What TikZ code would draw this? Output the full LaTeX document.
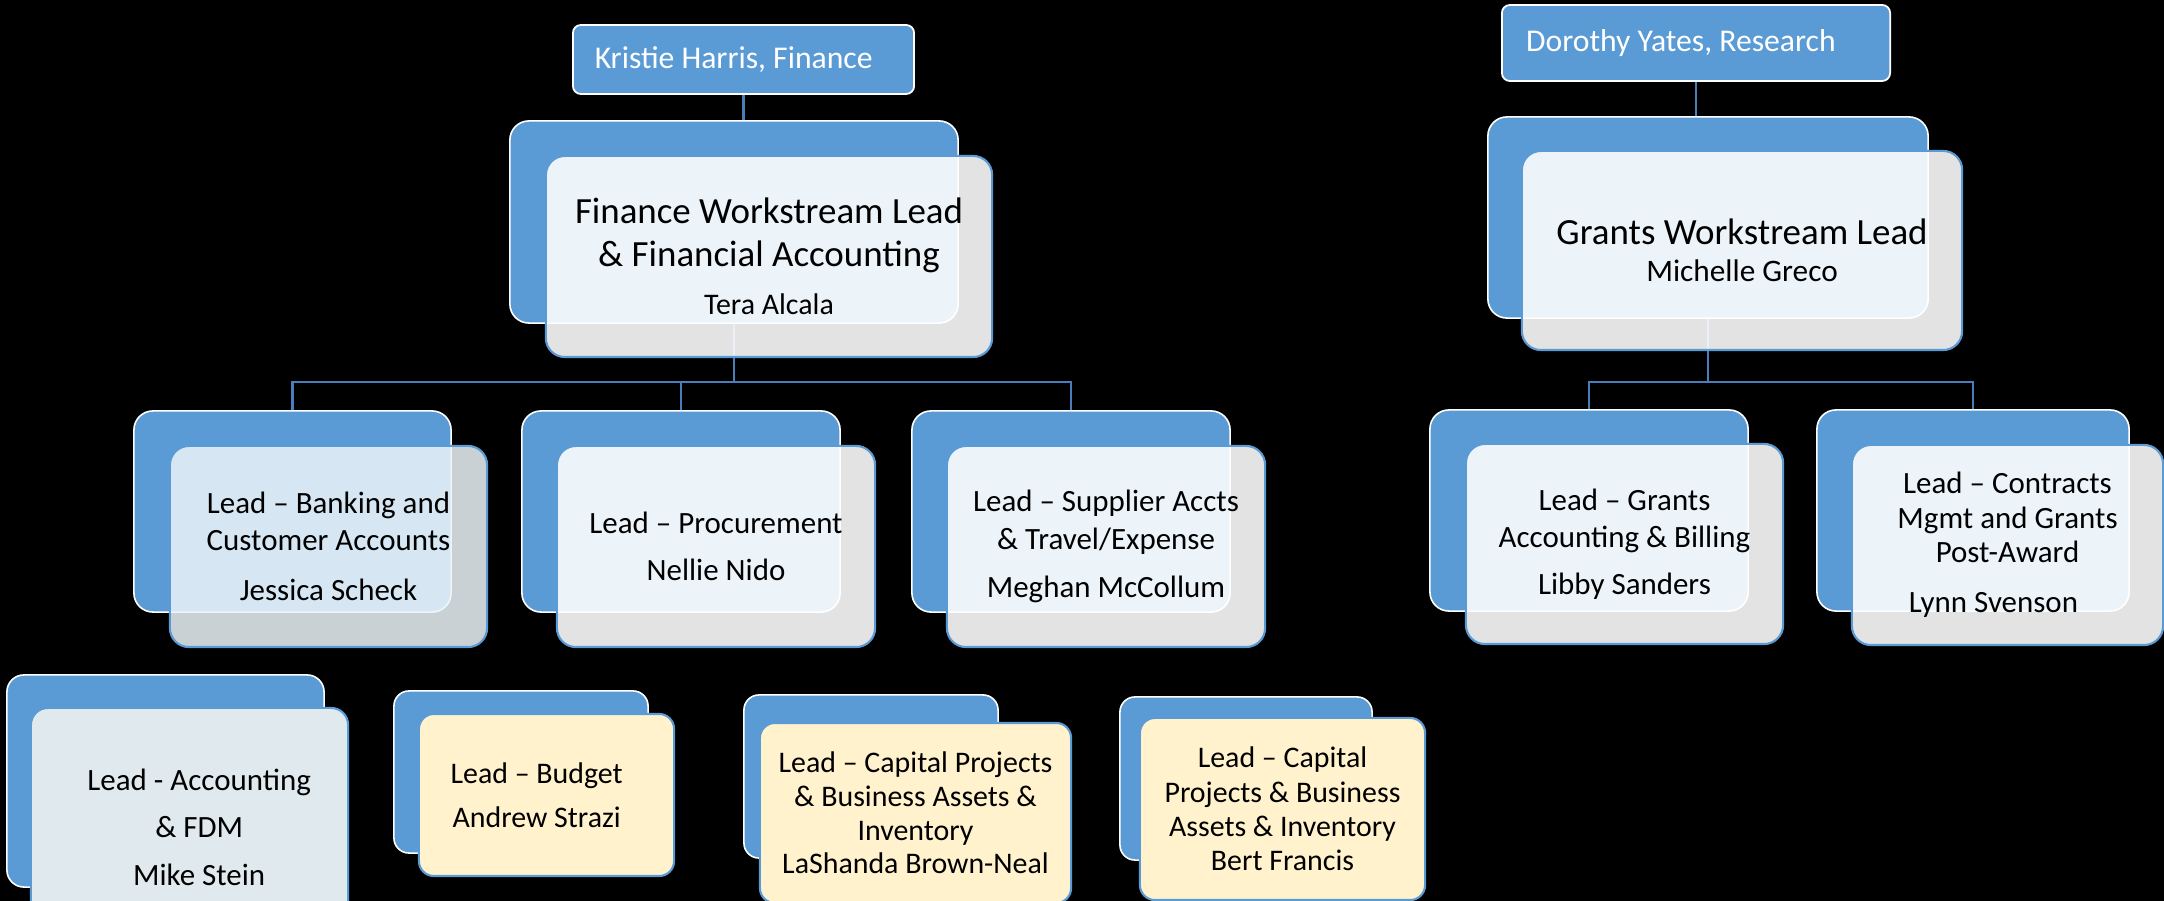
\documentclass[tikz,border=0pt]{standalone}
\usepackage{fontspec}
\setmainfont{Carlito}
\definecolor{accent}{HTML}{5B9BD5}
\definecolor{conn}{HTML}{4A7EBB}
\definecolor{ylw}{HTML}{FFF2CC}
\definecolor{mikefill}{HTML}{E0EAEE}
\definecolor{jessfill}{HTML}{EBF4F8}
\pgfdeclarelayer{bg}
\pgfdeclarelayer{wires}
\pgfsetlayers{bg,wires,main}
\begin{document}
\begin{tikzpicture}[x=0.01cm,y=-0.01cm,
  backbox/.style={draw=white, line width=0.45pt, fill=accent, rounded corners=0.19cm, inner sep=0pt},
  frontbox/.style={draw=accent, line width=0.6pt, fill=white, fill opacity=0.89, text opacity=1,
    rounded corners=0.19cm, inner sep=0pt, align=center, text=black},
  headbox/.style={draw=white, line width=0.5pt, fill=accent, rounded corners=0.08cm, text=white,
    font=\fontsize{9}{11}\selectfont, inner sep=0pt},
  leadfont/.style={font=\fontsize{10.5}{#1}\selectfont},
  kidfont/.style={font=\fontsize{8.8}{#1}\selectfont},
  lowfont/.style={font=\fontsize{8.5}{#1}\selectfont},
  wire/.style={draw=conn, line width=0.6pt}]
\begin{pgfonlayer}{bg}
\fill[black] (0,0) rectangle (2164,901);
\end{pgfonlayer}
\useasboundingbox (0,0) rectangle (2164,901);

% heads
\node[headbox, minimum width=3.41cm, minimum height=0.69cm] (kh) at (743.5,59.5)
  {\raisebox{0.7pt}{Kristie Harris, Finance}\hspace{5.6pt}\mbox{}};
\node[headbox, minimum width=3.88cm, minimum height=0.76cm] (dy) at (1696,43)
  {\raisebox{1.3pt}{Dorothy Yates, Research}\hspace{8.6pt}\mbox{}};

% finance lead
\node[backbox, minimum width=4.48cm, minimum height=2.02cm] (finb) at (734,222) {};
\node[frontbox, leadfont=12.2, minimum width=4.46cm, minimum height=2.01cm] (finf) at (769,256.5)
  {Finance Workstream Lead\\\& Financial Accounting\\[1.5pt]{\fontsize{8.5}{10}\selectfont Tera Alcala}};

% grants lead
\node[backbox, minimum width=4.40cm, minimum height=2.01cm] (grb) at (1708,217.5) {};
\node[frontbox, leadfont=10.5, minimum width=4.40cm, minimum height=1.99cm] (grf) at (1742,250.5)
  {Grants Workstream Lead\\{\fontsize{8.9}{10}\selectfont Michelle Greco}};

% finance children
\node[backbox, minimum width=3.17cm, minimum height=2.01cm] (jb) at (292.5,511.5) {};
\node[frontbox, fill=jessfill, fill opacity=0.86, kidfont=10.5, minimum width=3.17cm, minimum height=2.01cm] (jf) at (328.5,546.5)
  {Lead – Banking and\\Customer Accounts\\[3.7pt]Jessica Scheck};

\node[backbox, minimum width=3.18cm, minimum height=2.01cm] (nb) at (681,511.5) {};
\node[frontbox, kidfont=10.5, minimum width=3.18cm, minimum height=2.01cm] (nf) at (716,546.5)
  {Lead – Procurement\\[2.9pt]Nellie Nido};

\node[backbox, minimum width=3.18cm, minimum height=2.01cm] (mb) at (1071,511.5) {};
\node[frontbox, kidfont=10.8, minimum width=3.18cm, minimum height=2.01cm] (mf) at (1106,546.5)
  {Lead – Supplier Accts\\\& Travel/Expense\\[2.9pt]Meghan McCollum};

% grants children
\node[backbox, minimum width=3.18cm, minimum height=2.01cm] (lib) at (1589,510.5) {};
\node[frontbox, kidfont=10.5, minimum width=3.17cm, minimum height=2.00cm] (lif) at (1624.5,544)
  {Lead – Grants\\Accounting \& Billing\\[2.9pt]Libby Sanders};

\node[backbox, minimum width=3.12cm, minimum height=2.01cm] (lyb) at (1973,510.5) {};
\node[frontbox, kidfont=9.8, minimum width=3.11cm, minimum height=2.00cm] (lyf) at (2007.5,545)
  {Lead – Contracts\\Mgmt and Grants\\Post-Award\\[4.4pt]Lynn Svenson\hspace{8pt}\mbox{}};

% bottom row
\node[backbox, rounded corners=0.17cm, minimum width=3.17cm, minimum height=2.12cm] (msb) at (165.5,781) {};
\node[frontbox, fill=mikefill, fill opacity=1, rounded corners=0.17cm, kidfont=13.5, minimum width=3.17cm, minimum height=2.38cm] (msf) at (189.5,827)
  {\hspace{5.5pt}Lead - Accounting\\\hspace{5.5pt}\& FDM\\\hspace{5.5pt}Mike Stein};

\node[backbox, rounded corners=0.15cm, minimum width=2.54cm, minimum height=1.62cm] (asb) at (521,772) {};
\node[frontbox, fill=ylw, fill opacity=1, rounded corners=0.15cm, lowfont=12.5, minimum width=2.55cm, minimum height=1.62cm] (asf) at (546.5,795)
  {Lead – Budget\hspace{5.6pt}\mbox{}\\Andrew Strazi\hspace{5.6pt}\mbox{}};

\node[backbox, rounded corners=0.15cm, minimum width=2.54cm, minimum height=1.63cm] (lsb) at (871,776.5) {};
\node[frontbox, fill=ylw, fill opacity=1, rounded corners=0.15cm, lowfont=9.6, minimum width=3.11cm, minimum height=1.80cm] (lsf) at (915.5,813)
  {Lead – Capital Projects\\\& Business Assets \&\\Inventory\\LaShanda Brown-Neal};

\node[backbox, rounded corners=0.15cm, minimum width=2.52cm, minimum height=1.63cm] (bfb) at (1246,778.5) {};
\node[frontbox, fill=ylw, fill opacity=1, rounded corners=0.15cm, lowfont=9.8, minimum width=2.85cm, minimum height=1.82cm] (bff) at (1282.5,809)
  {Lead – Capital\\Projects \& Business\\Assets \& Inventory\\Bert Francis};

% connectors
\coordinate (fbus) at (734,382);
\coordinate (gbus) at (1708,382);
\begin{pgfonlayer}{wires}
\draw[wire] (kh.south) -- (kh.south |- finb.north);
\draw[wire] (finb.south) -- (fbus) -| (jb.north);
\draw[wire] (fbus) -| (nb.north);
\draw[wire] (fbus) -| (mb.north);
\draw[wire] (dy.south) -- (dy.south |- grb.north);
\draw[wire] (grb.south) -- (gbus) -| (lib.north);
\draw[wire] (gbus) -| (lyb.north);
\end{pgfonlayer}
\end{tikzpicture}
\end{document}
